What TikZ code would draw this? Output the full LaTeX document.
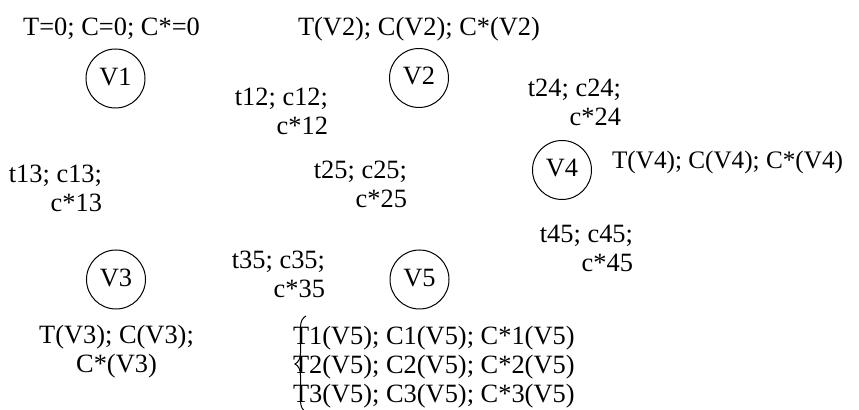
\documentclass[tikz,border=0pt]{standalone}
\usepackage{fontspec}
\setmainfont{Liberation Serif}
\usetikzlibrary{decorations.pathreplacing}
\begin{document}
\begin{tikzpicture}[x=0.5pt,y=-0.5pt,
  every node/.style={font=\fontsize{13.2pt}{14.5pt}\selectfont, inner sep=0pt, outer sep=0pt},
  vertex/.style={circle, draw, line width=0.5pt, minimum size=29.5pt, text height=8.7pt, text depth=2pt},
  rlbl/.style={align=right, anchor=base east},
  clbl/.style={align=center, anchor=base},
  llbl/.style={align=left, anchor=base west},
  sidetext/.style={font=\fontsize{12.6pt}{14pt}\selectfont, anchor=base east}]
\useasboundingbox (0,0) rectangle (859,410);
% vertices
\node[vertex] (V1) at (115.5,78.5) {V1};
\node[vertex] (V2) at (419,78) {V2};
\node[vertex] (V3) at (116,279.5) {V3};
\node[vertex] (V4) at (562,170) {V4};
\node[vertex] (V5) at (419.5,279.5) {V5};
% vertex labels (base anchor = last line)
\node[clbl] (L1) at (111.5,36) {T=0; C=0; C*=0};
\node[clbl] (L2) at (419,36) {T(V2); C(V2); C*(V2)};
\node[sidetext] (L4) at (843,169) {T(V4); C(V4); C*(V4)};
\node[clbl] (L3) at (116.5,373) {T(V3); C(V3);\\C*(V3)};
\node[llbl] (L5) at (293,403) {T1(V5); C1(V5); C*1(V5)\\T2(V5); C2(V5); C*2(V5)\\T3(V5); C3(V5); C*3(V5)};
% edge labels
\node[rlbl] (E12) at (328,135) {t12; c12;\\c*12};
\node[rlbl] (E13) at (102,212) {t13; c13;\\c*13};
\node[rlbl] (E25) at (407,208) {t25; c25;\\c*25};
\node[rlbl] (E35) at (325,298) {t35; c35;\\c*35};
\node[rlbl] (E24) at (621,126) {t24; c24;\\c*24};
\node[rlbl] (E45) at (633,272) {t45; c45;\\c*45};
% brace
\coordinate (bb) at (306,412);
\coordinate (bt) at (306,316);
\draw[decorate, decoration={brace, amplitude=5.5pt}, line width=0.5pt] (bb) -- (bt);
\end{tikzpicture}
\end{document}
